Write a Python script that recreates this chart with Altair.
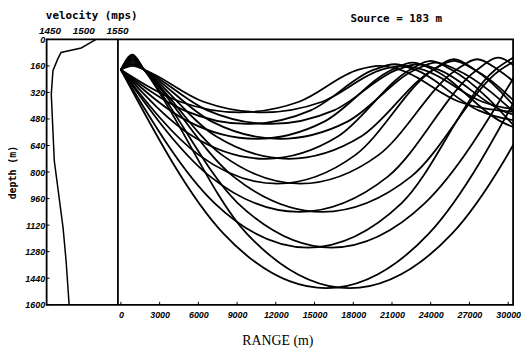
import altair as alt
import pandas as pd

# ---------------- data ----------------
depth_ticks = [0, 160, 320, 480, 640, 800, 960, 1120, 1280, 1440, 1600]
range_ticks = [0, 3000, 6000, 9000, 12000, 15000, 18000, 21000, 24000, 27000, 30000]
vel_ticks = [1450, 1500, 1550]

profile_depth = [0, 52, 79, 119, 189, 330, 733, 1135, 1335, 1600]
profile_vel = [1519, 1497, 1467, 1462, 1455, 1452.5, 1457, 1470, 1474.5, 1479]

source_label = ["Source  =  183  m"]

# rays: (range m, depth m)
ray01_r = [0, 4600, 9200, 13800, 18400, 20000, 21600, 26200, 30800]
ray01_d = [183, 376, 440, 376, 183, 160, 183, 376, 440]
ray02_r = [0, 900, 1800, 6400, 11000, 15600, 20200, 21800, 23400, 28000, 32600]
ray02_d = [183, 160, 183, 376, 440, 376, 183, 160, 183, 376, 440]
ray03_r = [0, 4900, 9800, 14700, 19600, 21200, 22800, 27700, 32600]
ray03_d = [183, 428, 510, 428, 183, 150, 183, 428, 510]
ray04_r = [0, 900, 1800, 6700, 11600, 16500, 21400, 23000, 24600, 29500, 34400]
ray04_d = [183, 150, 183, 428, 510, 428, 183, 150, 183, 428, 510]
ray05_r = [0, 5250, 10500, 15750, 21000, 22600, 24200, 29450, 34700]
ray05_d = [183, 496, 600, 496, 183, 140, 183, 496, 600]
ray06_r = [0, 900, 1800, 7050, 12300, 17550, 22800, 24400, 26000, 31250]
ray06_d = [183, 140, 183, 496, 600, 496, 183, 140, 183, 496]
ray07_r = [0, 5600, 11200, 16800, 22400, 24000, 25600, 31200]
ray07_d = [183, 586, 720, 586, 183, 130, 183, 586]
ray08_r = [0, 900, 1800, 7400, 13000, 18600, 24200, 25800, 27400, 33000]
ray08_d = [183, 130, 183, 586, 720, 586, 183, 130, 183, 586]
ray09_r = [0, 6050, 12100, 18150, 24200, 25800, 27400, 33450]
ray09_d = [183, 698, 870, 698, 183, 120, 183, 698]
ray10_r = [0, 900, 1800, 7850, 13900, 19950, 26000, 27600, 29200, 35250]
ray10_d = [183, 120, 183, 698, 870, 698, 183, 120, 183, 698]
ray11_r = [0, 6900, 13800, 20700, 27600, 29200, 30800]
ray11_d = [183, 826, 1040, 826, 183, 110, 183]
ray12_r = [0, 900, 1800, 8700, 15600, 22500, 29400, 31000]
ray12_d = [183, 110, 183, 826, 1040, 826, 183, 110]
ray13_r = [0, 7250, 14500, 21750, 29000, 30600]
ray13_d = [183, 987, 1255, 987, 183, 100]
ray14_r = [0, 900, 1800, 9050, 16300, 23550, 30800]
ray14_d = [183, 100, 183, 987, 1255, 987, 183]
ray15_r = [0, 7950, 15900, 23850, 31800]
ray15_d = [183, 1171, 1500, 1171, 183]
ray16_r = [0, 900, 1800, 9750, 17700, 25650, 33600]
ray16_d = [183, 92, 183, 1171, 1500, 1171, 183]

rays = [
    (ray01_r, ray01_d), (ray02_r, ray02_d), (ray03_r, ray03_d), (ray04_r, ray04_d),
    (ray05_r, ray05_d), (ray06_r, ray06_d), (ray07_r, ray07_d), (ray08_r, ray08_d),
    (ray09_r, ray09_d), (ray10_r, ray10_d), (ray11_r, ray11_d), (ray12_r, ray12_d),
    (ray13_r, ray13_d), (ray14_r, ray14_d), (ray15_r, ray15_d), (ray16_r, ray16_d),
]

rows = []
for i, (rr, dd) in enumerate(rays):
    for j, (r, d) in enumerate(zip(rr, dd)):
        rows.append({"ray": i, "k": j, "range": r, "depth": d})
ray_df = pd.DataFrame(rows)

prof_df = pd.DataFrame({"depth": profile_depth, "vel": profile_vel,
                        "k": list(range(len(profile_depth)))})

# ---------------- layout ----------------
H = 268          # plot height
LW = 72          # velocity panel width
RW = 399         # range panel width
W = LW + RW
tick_font = "Liberation Sans"
mono = "DejaVu Sans Mono"

# velocity scale: 1445.6..1551.5 spans the left LW pixels
v_per_px = (1551.5 - 1445.6) / LW
vscale = alt.Scale(domain=[1445.6, 1445.6 + v_per_px * W], nice=False, zero=False)
# range scale: -230..30380 spans the right RW pixels
r_per_px = (30380 + 230) / RW
rscale = alt.Scale(domain=[-230 - r_per_px * LW, 30380], nice=False, zero=False)
yscale = alt.Scale(domain=[0, 1600], reverse=True, nice=False, zero=False)

depth_axis = alt.Axis(values=depth_ticks, format="d", ticks=False, tickSize=0,
                      domain=False, grid=False, labelPadding=2, labelOverlap=False,
                      labelFont=tick_font, labelFontSize=9, labelFontWeight="bold",
                      labelFontStyle="italic", labelColor="black",
                      title="depth (m)", titleFont=mono, titleFontSize=10,
                      titleFontWeight="bold", titleColor="black",
                      titleX=-34, titleBaseline="middle", titleAlign="center",
                      titleAngle=-90)


def depth_y():
    return alt.Y("depth:Q", scale=yscale, axis=depth_axis)


vel_x = alt.X("vel:Q", scale=vscale,
              axis=alt.Axis(orient="top", values=vel_ticks, format="d", ticks=False, tickSize=0,
                            domain=False, grid=False, labelPadding=4, labelOverlap=False,
                            labelFont=tick_font, labelFontSize=10, labelFontWeight="bold",
                            labelFontStyle="italic", labelColor="black",
                            title="velocity (mps)", titleFont=mono, titleFontSize=11,
                            titleFontWeight="bold", titleColor="black",
                            titleY=-24, titleX=45, titleBaseline="middle", titleAlign="center"))

profile = alt.Chart(prof_df).mark_line(color="black", strokeWidth=1.5).encode(
    x=vel_x, y=depth_y(), order="k:Q")

dtick_df = pd.DataFrame({"depth": depth_ticks})
left_ticks = alt.Chart(dtick_df).mark_rule(color="black", strokeWidth=1).encode(
    y=depth_y(), x=alt.value(0), x2=alt.value(3))

divider = alt.Chart(pd.DataFrame({"d": [0]})).mark_rule(color="black", strokeWidth=1.8).encode(
    x=alt.value(LW), y=alt.value(0), y2=alt.value(H))

range_x = alt.X("range:Q", scale=rscale,
                axis=alt.Axis(values=range_ticks, format="d", ticks=False, tickSize=0,
                              domain=False, grid=False, labelPadding=6,
                              labelFont=tick_font, labelFontSize=9, labelFontWeight="bold",
                              labelFontStyle="italic", labelColor="black",
                              labelOverlap=False,
                              title="RANGE (m)", titleFont="Liberation Serif", titleFontSize=14,
                              titleFontWeight="normal", titleColor="black",
                              titleX=161 + LW, titleY=36, titleBaseline="middle",
                              titleAlign="center"))

ray_lines = alt.Chart(ray_df).mark_line(color="black", strokeWidth=1.8,
                                        interpolate="monotone", clip=True).encode(
    x=range_x, y=depth_y(), detail="ray:N", order="k:Q")

rtick_df = pd.DataFrame({"range": range_ticks})
right_ticks = alt.Chart(rtick_df).mark_rule(color="black", strokeWidth=1).encode(
    x=alt.X("range:Q", scale=rscale, axis=None), y=alt.value(H), y2=alt.value(H - 3))

src = alt.Chart(pd.DataFrame({"t": source_label})).mark_text(
    font=mono, fontSize=11, fontWeight="bold", color="black", align="center",
    baseline="middle").encode(text="t:N", x=alt.value(281 + LW), y=alt.value(-21))

chart = alt.layer(profile, left_ticks, divider, ray_lines, right_ticks, src).resolve_scale(
    x="independent"
).resolve_axis(x="independent").properties(
    width=W, height=H,
    padding={"left": 0, "top": 0, "right": 0, "bottom": 0},
    background="white",
).configure_view(stroke="black", strokeWidth=1.8)

chart.save("out.html", embed_options={"renderer": "svg", "actions": False})
